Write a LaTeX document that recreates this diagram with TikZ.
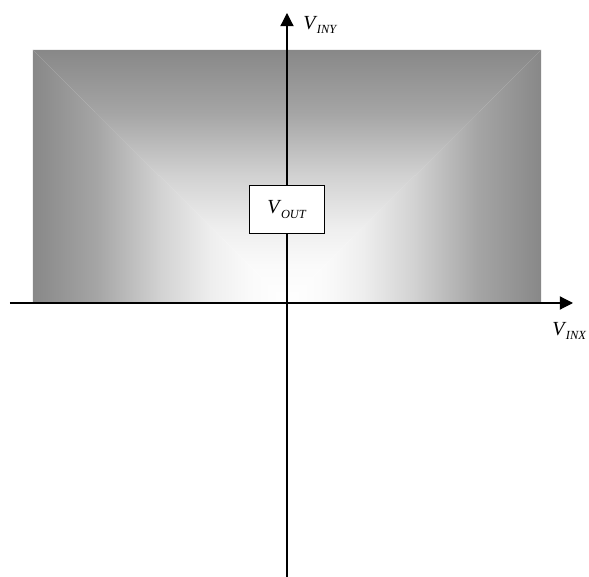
\documentclass[tikz,border=0pt]{standalone}
\usepackage{fontspec}
\setmainfont{Liberation Serif}
\usepackage{tikz}
\usetikzlibrary{arrows.meta, positioning}

\definecolor{edgeGray}{RGB}{136,136,136}
\definecolor{midGray}{RGB}{165,165,165}
\definecolor{lightGray}{RGB}{210,210,210}
\definecolor{paleGray}{RGB}{238,238,238}
\definecolor{glowGray}{RGB}{250,250,250}
\newcommand{\vlabel}[1]{\textit{V}\kern-0.3pt\raisebox{-0.5ex}{\fontsize{6.2}{6}\selectfont\textit{#1}}}

% shadings: white at the origin, gray at the edges
\pgfdeclarehorizontalshading{glowLeft}{100bp}{color(0bp)=(edgeGray); color(25bp)=(edgeGray); color(37.5bp)=(midGray); color(50bp)=(lightGray); color(60bp)=(paleGray); color(67.5bp)=(glowGray); color(75bp)=(white); color(100bp)=(white)}
\pgfdeclarehorizontalshading{glowRight}{100bp}{color(0bp)=(white); color(25bp)=(white); color(32.5bp)=(glowGray); color(40bp)=(paleGray); color(50bp)=(lightGray); color(62.5bp)=(midGray); color(75bp)=(edgeGray); color(100bp)=(edgeGray)}
\pgfdeclareverticalshading{glowTop}{100bp}{color(0bp)=(white); color(25bp)=(white); color(32.5bp)=(glowGray); color(40bp)=(paleGray); color(50bp)=(lightGray); color(62.5bp)=(midGray); color(75bp)=(edgeGray); color(100bp)=(edgeGray)}

\begin{document}
\begin{tikzpicture}[
    x=0.5pt, y=0.5pt,
    axisLine/.style={-{Triangle[length=6.6pt, width=6.6pt]}, black, line width=0.6pt},
    outBox/.style={rectangle, draw=black, fill=white, line width=0.6pt, minimum width=37.5pt, minimum height=23.8pt, font=\fontsize{10}{12}\selectfont},
    axisLabel/.style={inner sep=0pt, font=\fontsize{10}{12}\selectfont}
]
    \useasboundingbox (-287,-274) rectangle (302,303);

    % Shaded region
    \shade[shading=glowLeft]  (-254,0) -- (-254,253) -- (0,0) -- cycle;
    \shade[shading=glowRight] (0,0) -- (254,253) -- (254,0) -- cycle;
    \shade[shading=glowTop]   (-254,253) -- (254,253) -- (0,0) -- cycle;

    % Axes
    \coordinate (xstart) at (-277,0);
    \coordinate (xend)   at (286,0);
    \coordinate (ystart) at (0,-274);
    \coordinate (yend)   at (0,290);
    \draw[axisLine] (xstart) -- (xend);
    \draw[axisLine] (ystart) -- (yend);

    % Labels
    \node[axisLabel, anchor=west] (viny) at (16,278) {\vlabel{INY}};
    \node[axisLabel, anchor=west] (vinx) at (265,-28) {\vlabel{INX}};

    % Output box
    \node[outBox] (vout) at (0,93.5) {\vlabel{OUT}};
\end{tikzpicture}
\end{document}
